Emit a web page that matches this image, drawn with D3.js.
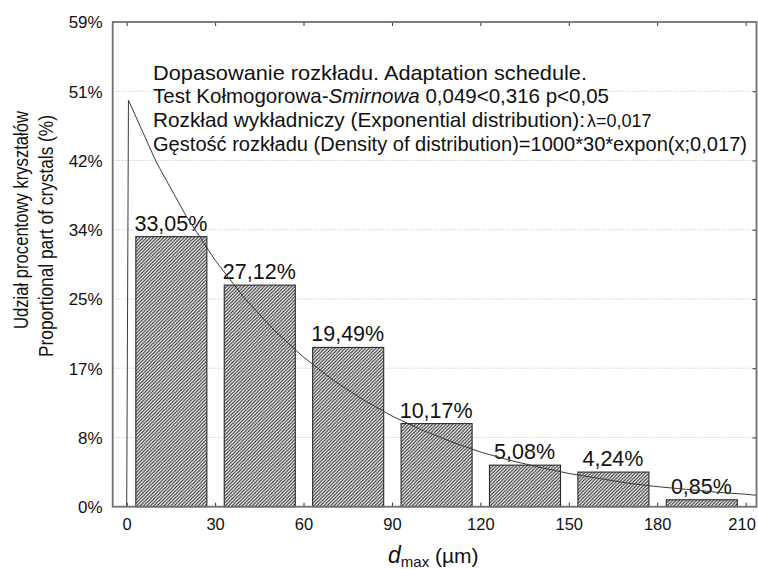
<!DOCTYPE html>
<html><head><meta charset="utf-8">
<script src="https://cdn.jsdelivr.net/npm/d3@7"></script>
<style>
body{margin:0;background:#fff}
text{font-family:"Liberation Sans",Arial,sans-serif;fill:#111}
</style>
</head><body>
<svg id="chart" width="758" height="569"></svg>
<script>
// ---- data ----
const binStarts = [0, 30, 60, 90, 120, 150, 180];
const binWidth = 30;
const counts = [39, 32, 23, 12, 6, 5, 1];           // N = 118
const percentLabels = ["33,05%", "27,12%", "19,49%", "10,17%", "5,08%", "4,24%", "0,85%"];
const xTicks = [0, 30, 60, 90, 120, 150, 180, 210];
const yTicks = [0, 10, 20, 30, 40, 50, 60, 70];
const yTickLabels = ["0%", "8%", "17%", "25%", "34%", "42%", "51%", "59%"];
// fitted exponential density curve (expected counts)
const curveX = [0, 0.6, 10, 20, 30, 40, 50, 60, 70, 80, 90, 100, 110, 120, 130, 140, 150, 160, 170, 180, 190, 200, 210, 213.7];
const curveY = [0, 58.7, 49.8, 42.1, 35.6, 30.1, 25.5, 21.6, 18.3, 15.5, 13.1, 11.1, 9.4, 7.9, 6.7, 5.7, 4.8, 4.1, 3.4, 2.9, 2.5, 2.1, 1.8, 1.65];
const infoLines = [
  "Dopasowanie rozkładu. Adaptation schedule.",
  "Test Kołmogorowa-Smirnowa 0,049<0,316 p<0,05",
  "Rozkład wykładniczy (Exponential distribution):",
  "Gęstość rozkładu (Density of distribution)=1000*30*expon(x;0,017)"
];
const lambdaText = "λ=0,017";
const yTitle = ["Udział procentowy kryształów", "Proportional part of crystals (%)"];

// ---- layout ----
const L = 112.7, R = 756.5, T = 22, B = 506.7;
const svg = d3.select("#chart");
const x = d3.scaleLinear().domain([-4.75, 213.7]).range([L, R]);
const y = d3.scaleLinear().domain([0, 70]).range([B, T]);

// hatch pattern
const defs = svg.append("defs");
const pat = defs.append("pattern").attr("id", "hatch").attr("patternUnits", "userSpaceOnUse")
  .attr("width", 3.4).attr("height", 3.4);
pat.append("rect").attr("width", 3.4).attr("height", 3.4).attr("fill", "#fff");
pat.append("path").attr("d", "M-1,1 L1,-1 M0,3.4 L3.4,0 M2.4,4.4 L4.4,2.4")
  .attr("stroke", "#333").attr("stroke-width", 1.15);

// gridlines
svg.append("g").selectAll("line").data(yTicks.slice(1, -1)).join("line")
  .attr("x1", L).attr("x2", R).attr("y1", d => y(d)).attr("y2", d => y(d))
  .attr("stroke", "#b8b8b8").attr("stroke-width", 1).attr("stroke-dasharray", "1,2");

// info text
const infoG = svg.append("g");
const lineBase = [80, 103, 127, 151];
const lineLen = [434, 456, 432, 594];
const lineSize = [21, 21, 21, 20];
infoLines.forEach((t, i) => {
  const tx = infoG.append("text").attr("x", 153).attr("y", lineBase[i]).attr("font-size", lineSize[i])
    .attr("textLength", lineLen[i]).attr("lengthAdjust", "spacingAndGlyphs");
  if (i === 1) {
    tx.append("tspan").text("Test Kołmogorowa-");
    tx.append("tspan").attr("font-style", "italic").text("Smirnowa");
    tx.append("tspan").text(" 0,049<0,316 p<0,05");
  } else tx.text(t);
});
infoG.append("text").attr("x", 587).attr("y", lineBase[2])
  .attr("font-family", "Liberation Serif, Times New Roman, serif").attr("font-size", 18)
  .text(lambdaText);

// bars
svg.append("g").selectAll("rect").data(counts).join("rect")
  .attr("x", (d, i) => x(binStarts[i] + 3.1))
  .attr("width", (d, i) => x(binStarts[i] + binWidth - 2.8) - x(binStarts[i] + 3.1))
  .attr("y", d => y(d)).attr("height", d => y(0) - y(d))
  .attr("fill", "url(#hatch)").attr("stroke", "#2a2a2a").attr("stroke-width", 1.1);

// bar labels
svg.append("g").selectAll("text").data(counts).join("text")
  .attr("x", (d, i) => x(binStarts[i] + binWidth / 2))
  .attr("y", d => y(d) - 6)
  .attr("text-anchor", "middle").attr("font-size", 21.5)
  .text((d, i) => percentLabels[i]);

// curve
const pts = curveX.map((v, i) => [v, curveY[i]]);
svg.append("path").datum(pts)
  .attr("d", d3.line().x(d => x(d[0])).y(d => y(d[1])))
  .attr("fill", "none").attr("stroke", "#3c3c3c").attr("stroke-width", 1);

// axes (ticks inside)
const ax = svg.append("g").attr("transform", `translate(0,${B})`)
  .call(d3.axisBottom(x).tickValues(xTicks).tickSize(-4).tickSizeOuter(0).tickPadding(0));
ax.select(".domain").remove();
ax.selectAll("text").attr("font-size", 16.5).attr("y", 23).attr("dy", 0).attr("fill", "#111")
  .attr("x", d => d === 210 ? -4 : 0);
ax.selectAll("line").attr("stroke", "#333");

const axT = svg.append("g").attr("transform", `translate(0,${T})`)
  .call(d3.axisTop(x).tickValues(xTicks).tickSize(-4).tickSizeOuter(0).tickFormat(""));
axT.select(".domain").remove();
axT.selectAll("line").attr("stroke", "#333");

const ay = svg.append("g").attr("transform", `translate(${L},0)`)
  .call(d3.axisLeft(y).tickValues(yTicks).tickSize(0).tickPadding(0).tickFormat((d, i) => yTickLabels[i]));
ay.select(".domain").remove();
ay.selectAll("text").attr("font-size", 17).attr("x", -10).attr("dy", "0.35em").attr("fill", "#111");

const ayR = svg.append("g").attr("transform", `translate(${R},0)`)
  .call(d3.axisRight(y).tickValues(yTicks.slice(1, -1)).tickSize(-4).tickSizeOuter(0).tickFormat(""));
ayR.select(".domain").remove();
ayR.selectAll("line").attr("stroke", "#333");

// frame
svg.append("rect").attr("x", L).attr("y", T).attr("width", R - L).attr("height", B - T)
  .attr("fill", "none").attr("stroke", "#707070").attr("stroke-width", 1.8);

// axis titles
const xt = svg.append("text").attr("x", 388).attr("y", 563).attr("font-size", 21);
xt.append("tspan").attr("font-style", "italic").attr("font-size", 23).text("d");
xt.append("tspan").attr("font-size", 15).attr("dy", 4).text("max");
xt.append("tspan").attr("dy", -4).text(" (µm)");

svg.append("text").attr("transform", "translate(28,220) rotate(-90)")
  .attr("text-anchor", "middle").attr("font-size", 20)
  .attr("textLength", 218).attr("lengthAdjust", "spacingAndGlyphs").text(yTitle[0]);
svg.append("text").attr("transform", "translate(53,236) rotate(-90)")
  .attr("text-anchor", "middle").attr("font-size", 20)
  .attr("textLength", 242).attr("lengthAdjust", "spacingAndGlyphs").text(yTitle[1]);
</script>
</body></html>
